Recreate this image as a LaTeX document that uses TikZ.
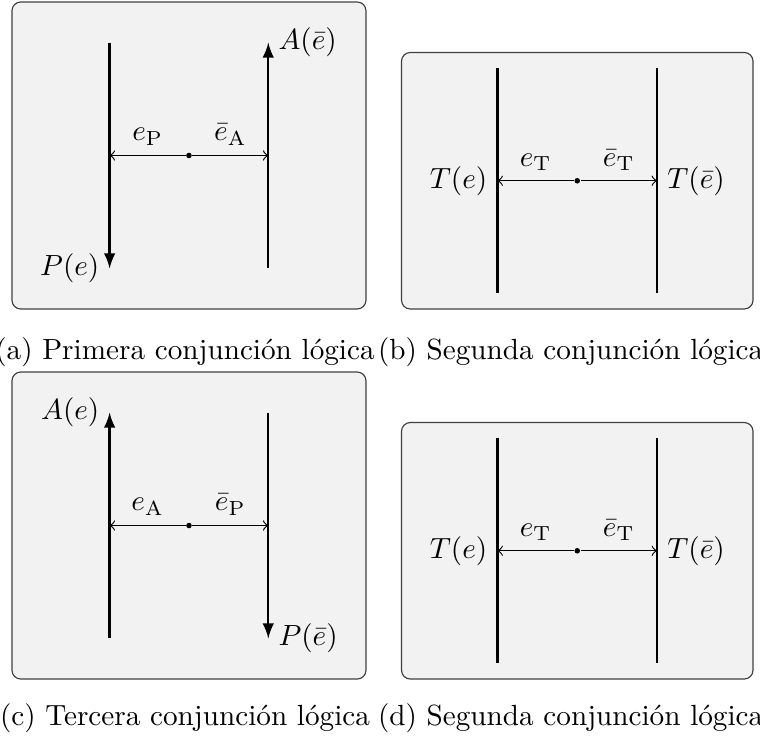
\documentclass[tikz,border=0pt]{standalone}
\usepackage{fontspec}
\usepackage{amsmath,amssymb}
\usepackage{tikz}
\usetikzlibrary{arrows.meta,positioning,calc}

\tikzset{
  panel/.style={draw=black!75,fill=black!5,rounded corners=3pt},
  pole/.style={line width=0.8pt},
  midpt/.style={circle,fill=black,inner sep=0pt,minimum size=1.9pt},
}

\begin{document}
\begin{tikzpicture}[>=to,scale=1.0]
  \useasboundingbox (0,0) rectangle (9.150,8.885);
  % (a)
  \begin{scope}[shift={(2.275,7.013)}]
    \draw[panel] (-2.131,-1.848) rectangle (2.131,1.848);
    \coordinate (a-lt) at (-0.955,1.36);
    \coordinate (a-lb) at (-0.955,-1.36);
    \coordinate (a-rt) at (0.955,1.36);
    \coordinate (a-rb) at (0.955,-1.36);
    \coordinate (a-l) at (-0.955,0);
    \coordinate (a-r) at (0.955,0);
    \node[midpt] (a-m) at (0,0) {};
    \draw[pole,-latex] (a-lt) -- (a-lb);
    \draw[pole,-latex] (a-rb) -- (a-rt);
    \node[left] (a-p) at (a-lb) {\(P(e)\)};
    \node[right] (a-a) at (a-rt) {\(A(\bar{e})\)};
    \draw[->] (a-m) -- (a-l) node[midway,above] (a-el) {\(e_{\mathrm{P}}\)};
    \draw[->] (a-m) -- (a-r) node[midway,above] (a-er) {\(\bar{e}_{\mathrm{A}}\)};
  \end{scope}
  % (b)
  \begin{scope}[shift={(6.950,6.709)}]
    \draw[panel] (-2.116,-1.544) rectangle (2.116,1.544);
    \coordinate (b-lt) at (-0.96,1.355);
    \coordinate (b-lb) at (-0.96,-1.355);
    \coordinate (b-rt) at (0.96,1.355);
    \coordinate (b-rb) at (0.96,-1.355);
    \coordinate (b-l) at (-0.96,0);
    \coordinate (b-r) at (0.96,0);
    \node[midpt] (b-m) at (0,0) {};
    \draw[pole] (b-lt) -- (b-lb);
    \draw[pole] (b-rt) -- (b-rb);
    \node[left] (b-t) at (b-l) {\(T(e)\)};
    \node[right] (b-tb) at (b-r) {\(T(\bar{e})\)};
    \draw[->] (b-m) -- (b-l) node[midway,above] (b-el) {\(e_{\mathrm{T}}\)};
    \draw[->] (b-m) -- (b-r) node[midway,above] (b-er) {\(\bar{e}_{\mathrm{T}}\)};
  \end{scope}
  % (c)
  \begin{scope}[shift={(2.275,2.558)}]
    \draw[panel] (-2.131,-1.848) rectangle (2.131,1.848);
    \coordinate (c-lt) at (-0.955,1.36);
    \coordinate (c-lb) at (-0.955,-1.36);
    \coordinate (c-rt) at (0.955,1.36);
    \coordinate (c-rb) at (0.955,-1.36);
    \coordinate (c-l) at (-0.955,0);
    \coordinate (c-r) at (0.955,0);
    \node[midpt] (c-m) at (0,0) {};
    \draw[pole,-latex] (c-lb) -- (c-lt);
    \draw[pole,-latex] (c-rt) -- (c-rb);
    \node[left] (c-a) at (c-lt) {\(A(e)\)};
    \node[right] (c-p) at (c-rb) {\(P(\bar{e})\)};
    \draw[->] (c-m) -- (c-l) node[midway,above] (c-el) {\(e_{\mathrm{A}}\)};
    \draw[->] (c-m) -- (c-r) node[midway,above] (c-er) {\(\bar{e}_{\mathrm{P}}\)};
  \end{scope}
  % (d)
  \begin{scope}[shift={(6.950,2.254)}]
    \draw[panel] (-2.116,-1.544) rectangle (2.116,1.544);
    \coordinate (d-lt) at (-0.96,1.355);
    \coordinate (d-lb) at (-0.96,-1.355);
    \coordinate (d-rt) at (0.96,1.355);
    \coordinate (d-rb) at (0.96,-1.355);
    \coordinate (d-l) at (-0.96,0);
    \coordinate (d-r) at (0.96,0);
    \node[midpt] (d-m) at (0,0) {};
    \draw[pole] (d-lt) -- (d-lb);
    \draw[pole] (d-rt) -- (d-rb);
    \node[left] (d-t) at (d-l) {\(T(e)\)};
    \node[right] (d-tb) at (d-r) {\(T(\bar{e})\)};
    \draw[->] (d-m) -- (d-l) node[midway,above] (d-el) {\(e_{\mathrm{T}}\)};
    \draw[->] (d-m) -- (d-r) node[midway,above] (d-er) {\(\bar{e}_{\mathrm{T}}\)};
  \end{scope}
  % captions
  \node[anchor=base] (a-cap) at (2.227,4.56) {(a) Primera conjunción lógica};
  \node[anchor=base] (b-cap) at (6.87,4.56) {(b) Segunda conjunción lógica};
  \node[anchor=base] (c-cap) at (2.227,0.15) {(c) Tercera conjunción lógica};
  \node[anchor=base] (d-cap) at (6.87,0.15) {(d) Segunda conjunción lógica};
\end{tikzpicture}
\end{document}
